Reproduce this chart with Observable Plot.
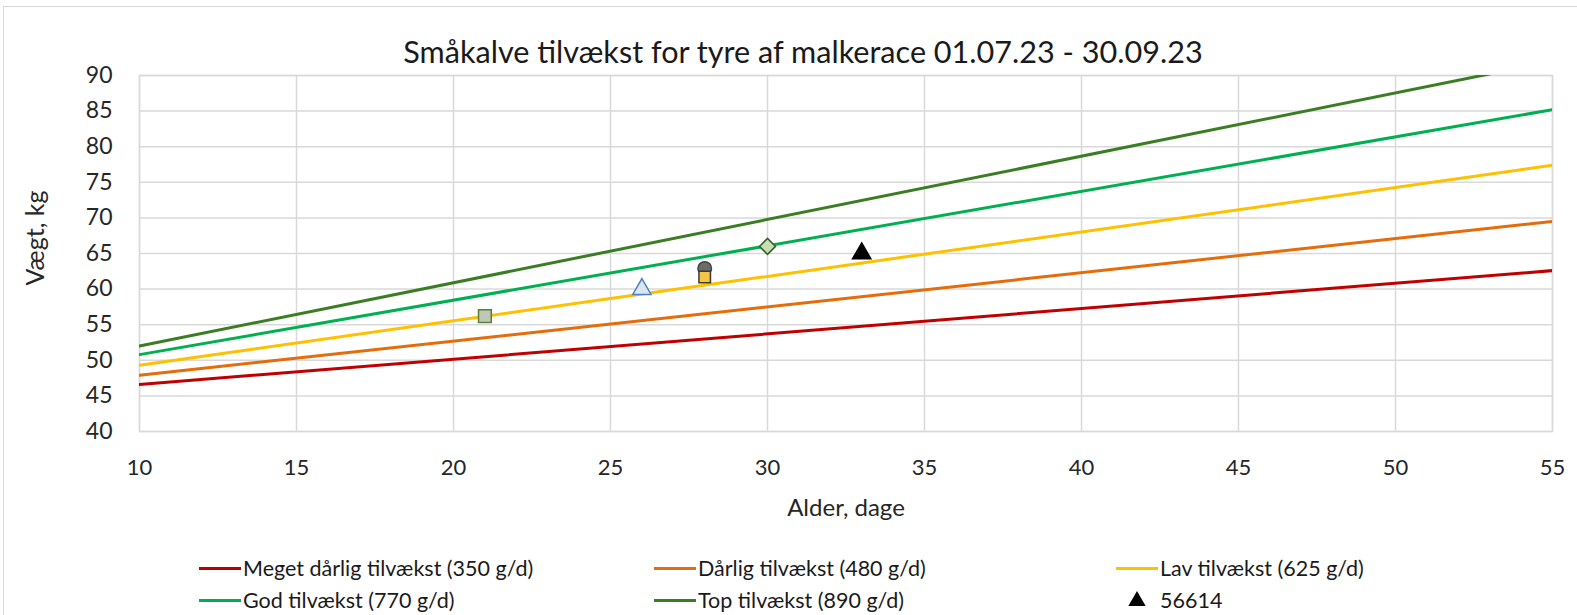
<!DOCTYPE html>
<html>
<head>
<meta charset="utf-8">
<script src="https://cdn.jsdelivr.net/npm/d3@7"></script>
<script src="https://cdn.jsdelivr.net/npm/@observablehq/plot@0.6"></script>
<style>
  html, body { margin: 0; padding: 0; background: #fff; }
  body { width: 1577px; height: 615px; position: relative; overflow: hidden; font-family: Lato, "Open Sans", sans-serif; }
  #frame { position: absolute; left: 3px; top: 6px; width: 1640px; height: 700px; border: 1.5px solid #d9d9d9; box-sizing: border-box; }
  #title { position: absolute; left: 0; top: 35px; width: 1606px; text-align: center; font-size: 30.6px; line-height: 34px; color: #1a1a1a; white-space: nowrap; }
  #chart { position: absolute; left: 0; top: 0; }
  .leg { position: absolute; font-size: 21.5px; color: #1a1a1a; white-space: nowrap; line-height: 24px; }
  .sw { position: absolute; height: 3px; width: 42px; }
</style>
</head>
<body>
<div id="frame"></div>
<div id="chart"></div>
<div id="title">Småkalve tilvækst for tyre af malkerace 01.07.23 - 30.09.23</div>
<div id="legend"></div>
<script>
// Reference growth lines (weight at age 10 and age 55)
const lineAges = [10, 55];
const seriesNames = [
  "Meget dårlig tilvækst (350 g/d)",
  "Dårlig tilvækst (480 g/d)",
  "Lav tilvækst (625 g/d)",
  "God tilvækst (770 g/d)",
  "Top tilvækst (890 g/d)"
];
const startWeights = [46.6, 47.9, 49.3, 50.8, 52.0];
const endWeights = [62.6, 69.5, 77.4, 85.2, 92.0];
const seriesColors = ["#c00000", "#e46c0a", "#ffc000", "#00b050", "#3a7d22"];

// Individual calves
const calfAges = [21, 26, 28, 28, 30, 33];
const calfWeights = [56.2, 60.0, 62.9, 61.7, 66.0, 65.0];
const calfNames = ["", "", "", "", "", "56614"];

// Axis ticks
const xTicks = [10, 15, 20, 25, 30, 35, 40, 45, 50, 55];
const yTicks = [40, 45, 50, 55, 60, 65, 70, 75, 80, 85, 90];

// build tables
const lineData = [];
seriesNames.forEach((name, i) => {
  lineData.push({series: name, age: lineAges[0], w: startWeights[i], color: seriesColors[i]});
  lineData.push({series: name, age: lineAges[1], w: endWeights[i], color: seriesColors[i]});
});
const calfData = calfAges.map((a, i) => ({age: a, w: calfWeights[i], name: calfNames[i]}));

const markerStyle = [
  {symbol: "square", fill: "#bfc8b8", stroke: "#5b7f3b", r: 7.2},
  {symbol: "triangle", fill: "#dce6f2", stroke: "#4f81bd", r: 6.8},
  {symbol: "circle", fill: "#6b6b6b", stroke: "#444", r: 6.8},
  {symbol: "square", fill: "#f5c542", stroke: "#3a3a3a", r: 6.5},
  {symbol: "diamond2", fill: "#c5e0b4", stroke: "#3b5e2b", r: 7.2},
  {symbol: "triangle", fill: "#000000", stroke: "#000000", r: 6.8}
];

const marks = [
  Plot.gridX(xTicks, {stroke: "#d9d9d9", strokeOpacity: 1, strokeWidth: 1.5}),
  Plot.gridY(yTicks, {stroke: "#d9d9d9", strokeOpacity: 1, strokeWidth: 1.5}),
  Plot.frame({stroke: "#d9d9d9", strokeWidth: 1.5}),
  Plot.axisX(xTicks, {tickSize: 0, tickPadding: 28, fontSize: 22, fill: "#262626", label: null}),
  Plot.axisY(yTicks, {tickSize: 0, tickPadding: 27, fontSize: 23, fill: "#262626", label: null}),
  Plot.line(lineData, {x: "age", y: "w", z: "series", stroke: "color", strokeWidth: 3, clip: true}),
  Plot.text(["Alder, dage"], {frameAnchor: "bottom", dy: 84, fontSize: 24, fill: "#262626"}),
  Plot.text(["Vægt, kg"], {frameAnchor: "left", dx: -104, dy: 32, rotate: -90, fontSize: 25, fill: "#262626"})
];
calfData.forEach((d, i) => {
  const s = markerStyle[i];
  marks.push(Plot.dot([d], {x: "age", y: "w", symbol: () => s.symbol, fill: s.fill, stroke: s.stroke, strokeWidth: 1.5, r: s.r}));
});

const chart = Plot.plot({
  width: 1577,
  height: 530,
  marginLeft: 139,
  marginRight: 25,
  marginTop: 75,
  marginBottom: 99,
  style: {fontFamily: "Lato, 'Open Sans', sans-serif", background: "transparent"},
  x: {domain: [10, 55]},
  y: {domain: [40, 90]},
  symbol: {type: "identity"},
  marks
});
document.getElementById("chart").appendChild(chart);

// Legend
const legend = document.getElementById("legend");
const cols = [199, 654, 1116];
const rows = [568, 600];
const items = seriesNames.map((n, i) => ({label: n, color: seriesColors[i], kind: "line"}));
items.push({label: calfNames[5], color: "#000", kind: "tri"});
items.forEach((it, k) => {
  const cx = cols[k % 3], cy = rows[Math.floor(k / 3)];
  if (it.kind === "line") {
    const sw = document.createElement("div");
    sw.className = "sw";
    sw.style.left = cx + "px";
    sw.style.top = (cy - 1.5) + "px";
    sw.style.background = it.color;
    legend.appendChild(sw);
  } else {
    const svg = d3.create("svg").attr("width", 20).attr("height", 20)
      .style("position", "absolute").style("left", (cx + 11) + "px").style("top", (cy - 10) + "px");
    svg.append("path").attr("transform", "translate(10,11)").attr("d", d3.symbol(d3.symbolTriangle, 130)()).attr("fill", "#000");
    legend.appendChild(svg.node());
  }
  const t = document.createElement("div");
  t.className = "leg";
  t.textContent = it.label;
  t.style.left = (cx + 44) + "px";
  t.style.top = (cy - 12) + "px";
  legend.appendChild(t);
});
</script>
</body>
</html>
